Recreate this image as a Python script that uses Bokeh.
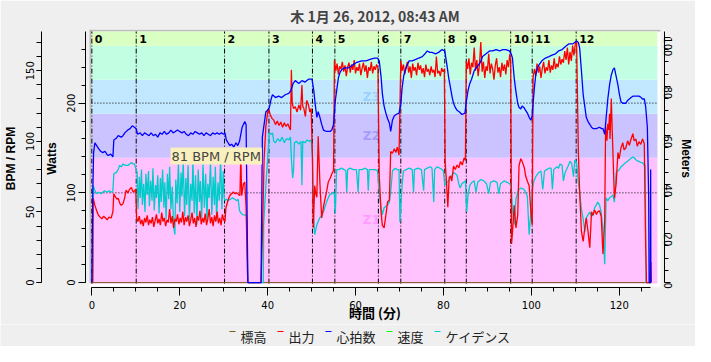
import math
from bokeh.plotting import figure
from bokeh.layouts import column
from bokeh.models import (Range1d, LinearAxis, SingleIntervalTicker, BoxAnnotation, Label)
from bokeh.core.properties import value
from bokeh.embed import file_html
from bokeh.resources import INLINE

# ---------------- data ----------------
TITLE = "木 1月 26, 2012, 08:43 AM"
X_LABEL = "時間 (分)"
SERIES_NAMES = ["標高", "出力", "心拍数", "速度", "ケイデンス"]
HOVER_TEXT = "81 BPM / RPM"

# heart rate (bpm) : (minutes, value)
HR = [(0.0,0),(0.2,60),(0.4,92),(0.7,99),(1.1,97),(1.5,95),(2.0,93),(2.5,92),(3.0,93),(3.4,91),(3.7,90),(4.3,91),(4.8,89),(5.0,101),(5.5,102),(6.0,104),(6.7,103),(7.1,104),(7.5,106),(8.2,108),(8.7,109),(9.2,111),(9.7,110),(10.1,109),(10.4,105),(11.0,106),(11.5,104),(12.0,106),(12.5,105),(13.0,104),(13.5,106),(14.0,104),(14.5,105),(15.0,103),(15.5,106),(16.0,105),(16.5,107),(17.0,105),(17.5,106),(18.0,108),(18.5,106),(19.0,107),(19.5,108),(20.0,107),(20.5,106),(21.0,107),(21.5,105),(22.0,104),(22.5,106),(23.0,105),(23.5,107),(24.0,106),(24.5,105),(25.0,106),(25.5,104),(26.0,106),(26.5,105),(27.0,104),(27.5,106),(28.0,105),(28.5,106),(29.0,105),(29.5,106),(30.0,105),(30.3,106),(30.6,101),(31.0,99),(31.4,97),(31.8,98),(32.3,96),(32.8,99),(33.2,97),(33.6,100),(34.2,110),(34.8,114),(35.1,112),(35.5,0),(38.5,0),(38.8,103),(39.2,112),(39.6,121),(40.0,122),(40.4,124),(40.8,130),(41.1,133),(41.8,131),(42.5,132),(43.2,131),(44.0,133),(44.8,134),(45.3,136),(45.8,141),(46.3,143),(47.1,141),(47.8,143),(48.5,142),(49.3,144),(50.1,144),(50.5,136),(50.8,127),(51.2,117),(51.5,121),(51.9,117),(52.3,112),(52.7,108),(53.4,107),(54.2,107),(54.6,108),(55.0,112),(55.4,129),(55.8,138),(56.1,145),(56.5,149),(56.9,151),(57.6,152),(58.4,152),(59.3,154),(60.3,156),(61.4,157),(62.4,157),(63.3,158),(64.3,159),(65.0,159),(65.4,157),(65.8,146),(66.1,134),(66.5,125),(66.9,120),(67.3,116),(67.7,113),(68.0,107),(68.4,115),(68.8,118),(69.2,119),(69.9,120),(70.3,126),(70.6,138),(71.0,147),(71.6,153),(72.2,157),(72.9,157),(73.7,158),(74.4,159),(75.2,160),(75.8,162),(76.3,164),(76.9,163),(77.4,163),(78.2,162),(78.9,163),(79.7,165),(80.3,164),(80.8,154),(81.2,145),(81.6,138),(82.0,131),(82.3,127),(82.7,124),(83.1,122),(83.6,121),(84.2,119),(84.9,120),(85.2,128),(85.6,136),(86.0,141),(86.4,144),(87.0,150),(87.7,153),(88.4,156),(88.9,160),(89.7,162),(90.5,164),(91.2,164),(92.0,165),(92.8,164),(93.5,165),(94.2,165),(95.0,164),(95.4,162),(95.7,159),(96.1,145),(96.5,135),(96.9,127),(97.2,124),(97.6,123),(97.9,125),(98.3,124),(98.7,122),(99.1,120),(99.5,117),(99.9,115),(100.2,118),(100.4,127),(100.7,138),(101.0,147),(101.3,151),(101.7,154),(102.4,157),(103.2,159),(104.0,160),(104.7,161),(105.5,162),(106.2,164),(107.0,165),(107.7,167),(108.5,169),(109.4,169),(110.3,171),(110.7,170),(111.0,166),(111.4,150),(111.8,133),(112.2,124),(112.5,117),(112.9,114),(113.3,112),(113.7,110),(114.1,109),(114.8,109),(115.5,110),(116.0,109),(116.3,109),(116.7,105),(117.0,116),(117.4,130),(117.8,140),(118.2,147),(118.6,151),(118.9,152),(119.3,146),(119.7,140),(120.0,134),(120.4,128),(120.8,127),(121.5,127),(121.9,129),(122.3,130),(122.7,131),(123.1,132),(123.8,132),(124.5,132),(125.0,131),(125.3,130),(125.7,130),(126.0,125),(126.4,110),(126.7,60),(126.8,0),(127.1,0),(127.15,80),(127.2,0)]

# power (W)
POWER = [(0.0,0),(0.2,0),(0.3,94),(0.7,86),(1.1,80),(1.5,75),(1.9,73),(2.3,71),(2.7,74),(3.1,72),(3.5,70),(3.9,73),(4.4,72),(4.8,79),(5.0,99),(5.3,96),(5.7,93),(6.0,94),(6.4,88),(6.7,86),(7.1,88),(7.5,95),(7.8,103),(8.2,100),(8.6,104),(9.0,106),(9.4,101),(9.7,102),(10.0,104),(10.2,72),
(10.5,68),(10.8,74),(11.1,65),(11.4,70),(11.7,63),(12.0,72),(12.3,67),(12.6,75),(12.9,64),(13.2,70),(13.5,66),(13.8,73),(14.1,62),(14.4,69),(14.7,76),(15.0,66),(15.3,71),(15.6,64),(15.9,78),(16.2,68),(16.5,72),(16.8,63),(17.1,70),(17.4,67),(17.7,82),(18.0,66),(18.3,74),(18.6,61),(18.9,71),(19.2,68),(19.5,76),(19.8,65),(20.1,72),(20.4,67),(20.7,79),(21.0,64),(21.3,73),(21.6,68),(21.9,75),(22.2,63),(22.5,70),(22.8,78),(23.1,66),(23.4,72),(23.7,62),(24.0,74),(24.3,69),(24.6,80),(24.9,65),(25.2,72),(25.5,67),(25.8,77),(26.1,64),(26.4,71),(26.7,82),(27.0,66),(27.3,73),(27.6,63),(27.9,75),(28.2,68),(28.5,79),(28.8,66),(29.1,72),(29.4,64),(29.7,76),(30.0,70),
(30.3,68),(30.5,83),(31.0,92),(31.4,97),(31.8,99),(32.2,101),(32.6,99),(33.0,100),(33.4,98),(33.7,97),(33.9,141),(34.1,97),(34.5,110),(34.8,112),(35.1,84),(35.4,13),(35.5,0),(38.5,0),(38.8,50),(39.2,138),(39.6,174),(40.0,190),(40.2,194),(40.6,187),(41.0,183),(41.4,181),(41.8,176),(42.2,180),(42.6,175),(43.0,179),(43.4,173),(43.8,178),(44.2,174),(44.6,177),(45.0,172),(45.2,170),(45.4,237),(45.6,200),(45.9,194),(46.3,196),(46.7,190),(47.1,198),(47.5,192),(47.8,220),(48.0,196),(48.2,195),(48.6,185),(48.9,203),(49.3,198),(49.6,190),(49.9,194),(50.2,139),(50.4,61),(50.7,108),(51.0,98),(51.2,95),(51.5,163),(51.9,110),(52.3,72),(52.7,84),(53.0,92),(53.4,101),(53.8,112),(54.2,116),(54.6,121),(55.0,125),(55.2,248),
(55.5,236),(55.8,244),(56.1,232),(56.4,241),(56.7,238),(57.0,246),(57.3,235),(57.6,242),(57.9,230),(58.2,240),(58.5,245),(58.8,234),(59.1,243),(59.4,237),(59.7,248),(60.0,233),(60.3,240),(60.6,236),(60.9,244),(61.2,231),(61.5,239),(61.8,245),(62.1,235),(62.4,242),(62.7,228),(63.0,240),(63.3,236),(63.6,246),(63.9,233),(64.2,241),(64.5,237),(64.8,243),(65.1,239),
(65.4,119),(65.8,79),(66.1,64),(66.5,61),(66.9,75),(67.3,90),(67.7,92),(68.0,146),(68.4,144),(68.8,149),(69.2,145),(69.5,151),(69.9,142),(70.3,247),
(70.6,236),(70.9,243),(71.2,232),(71.5,240),(71.8,246),(72.1,234),(72.4,241),(72.7,228),(73.0,244),(73.3,236),(73.6,240),(73.9,231),(74.2,245),(74.5,237),(74.8,242),(75.1,233),(75.4,239),(75.7,229),(76.0,243),(76.3,235),(76.6,238),(76.9,231),(77.2,241),(77.5,234),(77.8,237),(78.1,229),(78.4,252),(78.7,233),(79.0,236),(79.3,230),(79.6,239),(79.9,235),(80.2,238),
(80.4,134),(80.7,112),(81.0,84),(81.3,117),(81.6,119),(81.9,113),(82.3,130),(82.7,126),(83.1,131),(83.5,128),(83.9,135),(84.3,131),(84.7,139),(85.0,136),(85.2,247),
(85.5,238),(85.8,250),(86.1,232),(86.4,245),(86.7,240),(87.0,262),(87.3,236),(87.6,248),(87.9,230),(88.2,243),(88.5,268),(88.8,235),(89.1,246),(89.4,228),(89.7,241),(90.0,236),(90.3,255),(90.6,233),(90.9,244),(91.2,238),(91.5,226),(91.8,242),(92.1,250),(92.4,234),(92.7,240),(93.0,229),(93.3,245),(93.6,236),(93.9,243),(94.2,232),(94.5,248),(94.8,240),(95.1,255),(95.3,246),
(95.4,150),(95.5,43),(95.7,55),(96.1,86),(96.5,61),(96.9,75),(97.2,130),(97.6,138),(98.0,134),(98.4,128),(98.7,119),(99.1,113),(99.5,108),(99.9,79),(100.2,64),(100.4,228),
(100.7,238),(101.0,230),(101.3,244),(101.6,234),(101.9,241),(102.2,228),(102.5,239),(102.8,246),(103.1,233),(103.4,240),(103.7,236),(104.0,248),(104.3,234),(104.6,242),(104.9,237),(105.2,250),(105.5,238),(105.8,244),(106.1,240),(106.4,252),(106.7,243),(107.0,249),(107.3,245),(107.6,258),(107.9,248),(108.2,262),(108.5,243),(108.8,257),(109.1,247),(109.4,264),(109.7,253),(110.0,266),(110.3,269),
(110.7,145),(111.0,101),(111.4,57),(111.8,46),(112.2,62),(112.5,72),(112.9,57),(113.3,39),(113.7,79),(114.0,75),(114.4,81),(114.8,76),(115.1,79),(115.5,80),(115.9,74),(116.3,32),(116.7,70),(116.9,174),(117.2,158),(117.4,177),(117.6,170),(117.8,188),(117.9,160),(118.2,205),(118.4,170),(118.6,140),(118.9,94),(119.3,110),(119.7,145),(120.0,138),(120.4,150),(120.8,156),(121.1,148),(121.5,150),(121.9,158),(122.3,153),(122.7,160),(123.1,166),(123.4,158),(123.8,160),(124.1,152),(124.5,157),(124.9,154),(125.3,160),(125.7,155),(126.0,46),(126.2,0),(127.1,0),(127.2,23),(127.25,10),(127.3,0)]

# cadence (rpm)
CADENCE = [(0.0,0),(0.2,0),(0.3,69),(0.6,66),(1.0,63),(1.5,64),(2.1,63),(2.5,64),(2.9,65),(3.4,64),(3.9,65),(4.4,64),(4.8,65),(5.0,77),(5.6,78),(6.0,80),(6.3,83),(6.7,82),(7.1,84),(7.6,83),(8.2,83),(8.6,84),(9.0,85),(9.4,84),(9.7,84),(10.1,80),
(10.3,78),(10.5,52),(10.8,75),(11.0,60),(11.3,80),(11.5,55),(11.8,70),(12.1,50),(12.3,77),(12.6,62),(12.9,79),(13.1,54),(13.4,72),(13.7,58),(13.9,81),(14.2,51),(14.5,69),(14.7,60),(15.0,76),(15.3,49),(15.6,74),(15.8,57),(16.1,80),(16.4,53),(16.6,71),(16.9,45),(17.2,77),(17.5,59),(17.7,82),(18.0,52),(18.3,68),(18.6,40),(18.9,34),(19.1,73),(19.4,56),(19.7,85),(20.0,50),(20.3,78),(20.5,61),(20.8,86),(21.1,47),(21.4,74),(21.6,55),(21.9,83),(22.2,44),(22.5,70),(22.8,58),(23.0,87),(23.3,49),(23.6,76),(23.9,41),(24.2,80),(24.5,57),(24.7,72),(25.0,46),(25.3,84),(25.6,53),(25.9,77),(26.2,43),(26.4,70),(26.7,60),(27.0,86),(27.3,48),(27.6,75),(27.9,55),(28.1,82),(28.4,44),(28.7,71),(29.0,58),(29.3,88),(29.6,52),(29.9,79),(30.1,60),
(30.3,58),(30.6,59),(31.0,58),(31.5,59),(32.0,60),(32.5,59),(33.0,58),(33.3,59),(33.6,51),(34.0,49),(34.4,48),(34.8,48),(35.2,47),(35.5,0),(39.0,0),(39.1,41),(39.6,69),(39.9,83),(40.4,106),(40.8,105),(41.1,106),(41.4,100),(41.8,99),(42.3,102),(42.8,100),(43.3,103),(43.8,99),(44.3,102),(44.8,101),(45.2,103),(45.4,88),(45.7,74),(45.9,80),(46.1,99),(46.6,100),(47.1,98),(47.6,100),(47.8,69),(48.0,100),(48.5,99),(49.0,101),(49.5,100),(49.9,101),(50.2,90),(50.4,50),(50.7,34),(51.0,38),(51.2,41),(51.6,44),(51.9,46),(52.3,48),(52.7,50),(53.1,54),(53.4,57),(53.8,60),(54.1,62),(54.6,63),(55.0,64),(55.2,62),(55.4,49),(55.7,80),(56.2,80),(56.8,81),(57.4,80),(57.8,79),(58.0,64),(58.2,80),(58.8,81),(59.5,80),(60.2,80),(60.6,64),(60.8,80),(61.5,80),(62.2,81),(62.7,80),(62.9,65),(63.1,80),(63.9,80),(64.5,80),(65.0,79),(65.4,64),(65.8,53),(66.1,48),(66.5,53),(66.9,54),(67.3,55),(67.7,57),(68.0,64),(68.4,79),(69.0,81),(69.5,80),(69.9,80),(70.1,43),(70.6,69),(70.9,79),(71.5,80),(72.2,81),(72.9,80),(73.2,64),(73.4,80),(74.2,81),(75.0,80),(75.5,65),(75.7,80),(76.3,81),(77.0,82),(77.4,81),(77.8,57),(78.0,80),(78.5,82),(79.2,81),(79.7,80),(80.0,79),(80.3,69),(80.8,71),(81.2,72),(81.6,74),(82.0,76),(82.3,78),(82.7,77),(83.1,76),(83.5,70),(83.8,67),(84.2,70),(84.6,71),(85.0,72),(85.3,50),(85.6,62),(86.0,69),
(86.5,71),(87.0,72),(87.4,64),(87.8,71),(88.5,73),(89.2,72),(89.8,70),(90.3,63),(90.7,71),(91.5,72),(92.2,71),(92.6,63),(93.0,70),(93.8,72),(94.5,71),(95.0,70),(95.4,69),(95.7,52),(96.1,41),(96.5,59),(96.9,64),(97.2,66),(97.6,67),(98.3,66),(98.7,64),(99.1,61),(99.5,34),(99.9,50),(100.2,64),(100.5,71),(101.0,75),(101.7,78),(102.2,79),(102.6,66),(103.0,79),(103.5,80),(104.0,81),(104.5,81),(104.8,66),(105.1,80),(105.8,82),(106.2,81),(106.5,84),(107.0,83),(107.3,72),(107.7,78),(108.3,82),(108.8,86),(109.2,84),(109.6,75),(109.9,87),(110.3,85),(110.7,71),(111.0,64),(111.4,52),(111.8,45),(112.2,36),(112.5,46),(112.9,48),(113.3,50),(113.7,47),(114.1,48),(114.4,53),(114.8,55),(115.1,57),(115.5,55),(115.9,50),(116.3,36),(116.7,13),(117.0,60),(117.4,58),(117.8,60),(118.2,61),(118.6,62),(118.9,57),(119.3,78),(119.7,79),(120.0,80),(120.4,82),(120.8,83),(121.1,84),(121.5,85),(121.9,86),(122.3,87),(122.7,88),(123.1,89),(123.5,88),(123.8,87),(124.2,86),(124.5,86),(124.9,85),(125.3,85),(125.7,83),(125.9,83),(126.1,0),(127.2,0)]

ALTITUDE = [(0.0, 0), (127.2, 0)]      # metres

INTERVAL_STARTS = [0, 10.1, 30.2, 40.3, 50.2, 55.3, 65.2, 70.3, 80.3, 85.2, 95.3, 100.2, 110.2]
INTERVAL_NAMES = ["0", "1", "2", "3", "4", "5", "6", "7", "8", "9", "10", "11", "12"]
POWER_ZONE_LOW = [0, 139, 188, 226, 264]
ZONE_NAMES = ["Z1", "Z2", "Z3"]
RIDE_END = 127.2

# ---------------- styles ----------------
BG = "#efefef"
ZONE_FILL = ["#ffc2ff", "#cbc3ff", "#c2e8ff", "#c2ffe2", "#daffc2"]
ZONE_TEXT = ["#ff9cff", "#a49cff", "#9cd2ff"]
C_ALT, C_PWR, C_HR, C_SPD, C_CAD = "#7c5b1f", "#ff0000", "#0000ff", "#00ff00", "#00cccc"
SERIES_COLORS = [C_ALT, C_PWR, C_HR, C_SPD, C_CAD]
NUM_FONT = "DejaVu Sans"
TTL_FONT = "Liberation Sans"
JP_FONT = "Noto Sans CJK JP"

W_TOTAL = 695
H_MAIN = 324
H_LEG = 22

X0, X1 = -1.44, 130.3
BPM0, BPM1 = -3.47, 179.2
W0, W1 = -5.46, 282.0
M0, M1 = -2.0, 103.2
CANVAS_L, CANVAS_R, CANVAS_B = -0.54, 129.4, -4.4
INNER_L, INNER_R, INNER_B, INNER_T = -0.09, 128.7, -1.1, 279.8

p = figure(width=W_TOTAL, height=H_MAIN, output_backend="svg", toolbar_location=None,
           x_range=Range1d(X0, X1), y_range=Range1d(BPM0, BPM1),
           x_axis_location=None, y_axis_location=None,
           min_border_left=0, min_border_right=0, min_border_top=0, min_border_bottom=0)
p.extra_y_ranges = {"watts": Range1d(W0, W1), "meters": Range1d(M0, M1)}
p.background_fill_color = BG
p.border_fill_color = BG
p.outline_line_color = None
p.grid.visible = False

p.title.text = TITLE
p.title.align = "center"
p.title.text_font = JP_FONT
p.title.text_font_size = "14px"
p.title.text_font_style = "bold"
p.title.standoff = 7

# canvas with sunken frame
p.add_layout(BoxAnnotation(left=CANVAS_L, right=CANVAS_R, bottom=CANVAS_B, top=None,
                           y_range_name="watts", fill_color="white", fill_alpha=1,
                           line_color=None, level="underlay"))
p.add_layout(BoxAnnotation(left=CANVAS_L, right=INNER_L, bottom=INNER_B, top=None,
                           y_range_name="watts", fill_color="#bcbcbc", fill_alpha=1,
                           line_color=None, level="underlay"))
p.add_layout(BoxAnnotation(left=CANVAS_L, right=CANVAS_R, bottom=INNER_T, top=None,
                           y_range_name="watts", fill_color="#bcbcbc", fill_alpha=1,
                           line_color=None, level="underlay"))
zb = POWER_ZONE_LOW + [None]
for i in range(len(POWER_ZONE_LOW)):
    bot = INNER_B if i == 0 else zb[i]
    top = INNER_T if zb[i + 1] is None else zb[i + 1]
    p.add_layout(BoxAnnotation(left=INNER_L, right=INNER_R, bottom=bot, top=top,
                               y_range_name="watts", fill_color=ZONE_FILL[i], fill_alpha=1,
                               line_color=None, level="underlay"))

zmid = [(POWER_ZONE_LOW[i] + POWER_ZONE_LOW[i + 1]) / 2 for i in range(len(ZONE_NAMES))]
p.text(x=[63.6] * len(ZONE_NAMES), y=zmid, text=ZONE_NAMES, y_range_name="watts",
       text_color=ZONE_TEXT, text_font=value(NUM_FONT), text_font_size="12px",
       text_font_style="bold", text_align="center", text_baseline="middle")

grid_w = [100, 200]
p.segment(x0=[INNER_L] * 2, x1=[INNER_R] * 2, y0=grid_w, y1=grid_w, y_range_name="watts",
          line_color="black", line_dash="1 2", line_width=1)

p.segment(x0=INTERVAL_STARTS, x1=INTERVAL_STARTS, y0=[INNER_B] * len(INTERVAL_STARTS),
          y1=[INNER_T] * len(INTERVAL_STARTS), y_range_name="watts",
          line_color="black", line_dash="5 2 1 2", line_width=1)
p.text(x=INTERVAL_STARTS, y=[INNER_T] * len(INTERVAL_STARTS), text=INTERVAL_NAMES,
       y_range_name="watts", x_offset=3, y_offset=8, text_font=value(NUM_FONT),
       text_font_size="11px", text_font_style="bold", text_color="black",
       text_align="left", text_baseline="middle")

def cols(pairs):
    return [a for a, b in pairs], [b for a, b in pairs]

t_alt, v_alt = cols(ALTITUDE)
t_p, v_p = cols(POWER)
t_h, v_h = cols(HR)
t_c, v_c = cols(CADENCE)

p.line(t_alt, v_alt, y_range_name="meters", line_color=C_ALT, line_width=1)
p.line(t_c, v_c, line_color=C_CAD, line_width=1.3)
p.line(t_p, v_p, y_range_name="watts", line_color=C_PWR, line_width=1.3)
p.line(t_h, v_h, line_color=C_HR, line_width=1.3)

p.add_layout(Label(x=17.9, y=89.6, text=HOVER_TEXT, text_font=NUM_FONT,
                   text_font_size="13px", text_baseline="middle",
                   background_fill_color="#faf0be", padding=1))

def style(ax, tick_out, minor_out):
    ax.axis_line_color = "black"
    ax.major_tick_line_color = "black"
    ax.minor_tick_line_color = "black"
    ax.major_tick_in = 0
    ax.minor_tick_in = 0
    ax.major_tick_out = tick_out
    ax.minor_tick_out = minor_out
    ax.major_label_text_font = NUM_FONT
    ax.major_label_text_font_size = "10px"
    ax.major_label_text_color = "black"
    ax.axis_label_text_font = TTL_FONT
    ax.axis_label_text_font_size = "12px"
    ax.axis_label_text_font_style = "bold"
    ax.axis_label_text_color = "black"

ax_w = LinearAxis(y_range_name="watts", axis_label="Watts",
                  ticker=SingleIntervalTicker(interval=100, num_minor_ticks=5),
                  bounds=(0, INNER_T))
style(ax_w, 7, 4)
ax_w.major_label_orientation = "vertical"
ax_w.major_label_standoff = 3
ax_w.axis_label_standoff = 6
p.add_layout(ax_w, "left")

ax_b = LinearAxis(axis_label="BPM / RPM",
                  ticker=SingleIntervalTicker(interval=50, num_minor_ticks=5),
                  bounds=(0, 177.8))
style(ax_b, 5, 5)
ax_b.major_label_orientation = "vertical"
ax_b.major_label_standoff = 2
ax_b.axis_label_standoff = 6
p.add_layout(ax_b, "left")

ax_m = LinearAxis(y_range_name="meters", axis_label="Meters",
                  ticker=SingleIntervalTicker(interval=20, num_minor_ticks=4),
                  bounds=(0, 102.4))
style(ax_m, 6, 4)
ax_m.major_label_orientation = -math.pi / 2
ax_m.major_label_standoff = -3
ax_m.axis_label_standoff = 0
p.add_layout(ax_m, "right")

ax_x = LinearAxis(axis_label=X_LABEL,
                  ticker=SingleIntervalTicker(interval=20, num_minor_ticks=4),
                  bounds=(0, RIDE_END))
style(ax_x, 8, 4)
ax_x.major_label_standoff = 5
ax_x.axis_label_text_font = JP_FONT
ax_x.axis_label_text_font_size = "13px"
ax_x.axis_label_standoff = -9
p.add_layout(ax_x, "below")

# ---------- legend strip (own frame = whole strip, figure pixels) ----------
leg = figure(width=W_TOTAL, height=H_LEG, output_backend="svg", toolbar_location=None,
             title=None, x_range=Range1d(0, W_TOTAL), y_range=Range1d(H_LEG, 0),
             x_axis_location=None, y_axis_location=None,
             min_border_left=0, min_border_right=0, min_border_top=0, min_border_bottom=0)
leg.frame_align = False
leg.background_fill_color = BG
leg.border_fill_color = BG
leg.outline_line_color = None
leg.grid.visible = False

CH = 13          # legend character width (px)
item_x, dash0, dash1 = [], [], []
cur = 229
for name in SERIES_NAMES:
    dash0.append(cur)
    dash1.append(cur + 6)
    item_x.append(cur + 11)
    cur = cur + 11 + CH * len(name) + 11
base_y = 11.5    # text baseline inside the strip
mid_y = 7        # visual middle of the glyphs
leg.segment(x0=dash0, x1=dash1, y0=[mid_y] * 5, y1=[mid_y] * 5, line_color=SERIES_COLORS,
            line_width=1.2)
leg.text(x=item_x, y=[base_y] * 5, text=SERIES_NAMES, text_font=value(JP_FONT),
         text_font_size="13px", text_color="#222222", text_align="left",
         text_baseline="alphabetic")

layout = column(p, leg, spacing=0)
open("out.html", "w").write(file_html(layout, INLINE))
